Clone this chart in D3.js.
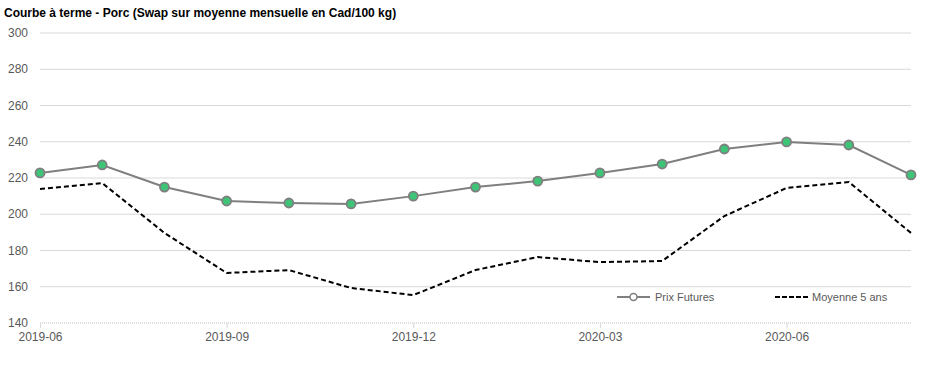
<!DOCTYPE html>
<html>
<head>
<meta charset="utf-8">
<script src="https://cdn.jsdelivr.net/npm/d3@7"></script>
<style>
  body { margin: 0; background: #fff; }
  svg { font-family: "Liberation Sans", Arial, sans-serif; }
</style>
</head>
<body>
<div id="chart"></div>
<script>
// Months 2019-06 .. 2020-08
const months = ["2019-06","2019-07","2019-08","2019-09","2019-10","2019-11","2019-12",
  "2020-01","2020-02","2020-03","2020-04","2020-05","2020-06","2020-07","2020-08"]
const prixFutures = [222.8, 227.2, 215, 207.3, 206.2, 205.7, 210, 215, 218.3, 222.8, 227.7, 236, 239.9, 238.2, 221.7]
const moyenne5 = [213.9, 217.2, 189.7, 167.6, 169.2, 159.3, 155.4, 169.2, 176.4, 173.6, 174.2, 199, 214.5, 217.8, 189.7]
const yTicks = [140, 160, 180, 200, 220, 240, 260, 280, 300]
const xTickLabels = ["2019-06", "2019-09", "2019-12", "2020-03", "2020-06"]

const width = 935, height = 366
const margin = { top: 33, right: 24, bottom: 43, left: 40 }

const svg = d3.select("#chart").append("svg")
  .attr("width", width).attr("height", height)

const x = d3.scalePoint().domain(months).range([margin.left, width - margin.right])
const y = d3.scaleLinear().domain([140, 300]).range([height - margin.bottom, margin.top])

svg.append("text")
  .attr("x", 4).attr("y", 17)
  .style("font-size", "12px").style("font-weight", "bold").attr("fill", "#000")
  .text("Courbe à terme - Porc (Swap sur moyenne mensuelle en Cad/100 kg)")

// gridlines
svg.append("g").selectAll("line")
  .data(yTicks.slice(1))
  .join("line")
  .attr("x1", margin.left).attr("x2", width - margin.right)
  .attr("y1", d => y(d)).attr("y2", d => y(d))
  .attr("stroke", "#d9d9d9").attr("stroke-width", 1)

// y labels
svg.append("g").selectAll("text")
  .data(yTicks)
  .join("text")
  .attr("x", 28).attr("y", d => y(d) + 4)
  .attr("text-anchor", "end")
  .style("font-size", "12px").attr("fill", "#595959")
  .text(d => d)

// x axis
const xAxis = d3.axisBottom(x)
  .tickValues(xTickLabels)
  .tickSize(5)
  .tickPadding(6)
const gx = svg.append("g")
  .attr("transform", `translate(0,${y(140)})`)
  .call(xAxis)
gx.select(".domain").attr("stroke", "#bfbfbf").attr("stroke-dasharray", "1,1")
  .attr("d", `M${margin.left},0H${width - margin.right}`)
gx.selectAll(".tick line").attr("stroke", "#d9d9d9").attr("y1", 0).attr("y2", 5)
gx.selectAll(".tick text")
  .style("font-size", "12px").style("font-family", "Liberation Sans, Arial, sans-serif")
  .attr("fill", "#595959")
  .attr("dy", "0.55em")

const line = d3.line().x((d, i) => x(months[i])).y(d => y(d))

svg.append("path")
  .datum(moyenne5)
  .attr("d", line)
  .attr("fill", "none").attr("stroke", "#000").attr("stroke-width", 2)
  .attr("stroke-dasharray", "5,3")

svg.append("path")
  .datum(prixFutures)
  .attr("d", line)
  .attr("fill", "none").attr("stroke", "#7f7f7f").attr("stroke-width", 2)

svg.append("g").selectAll("circle")
  .data(prixFutures)
  .join("circle")
  .attr("cx", (d, i) => x(months[i])).attr("cy", d => y(d))
  .attr("r", 4.5)
  .attr("fill", "#3ec477").attr("stroke", "#7f7f7f").attr("stroke-width", 1.8)

// legend
const leg = svg.append("g").attr("transform", "translate(617,297)")
leg.append("line").attr("x1", 0).attr("x2", 33).attr("y1", 0).attr("y2", 0)
  .attr("stroke", "#7f7f7f").attr("stroke-width", 2)
leg.append("circle").attr("cx", 16.5).attr("cy", 0).attr("r", 3.5)
  .attr("fill", "#fff").attr("stroke", "#7f7f7f").attr("stroke-width", 1.5)
leg.append("text").attr("x", 38).attr("y", 4)
  .style("font-size", "11px").attr("fill", "#595959").text("Prix Futures")

leg.append("line").attr("x1", 158).attr("x2", 191).attr("y1", 0).attr("y2", 0)
  .attr("stroke", "#000").attr("stroke-width", 2).attr("stroke-dasharray", "5,2")
leg.append("text").attr("x", 195).attr("y", 4)
  .style("font-size", "11px").attr("fill", "#595959").text("Moyenne 5 ans")
</script>
</body>
</html>
